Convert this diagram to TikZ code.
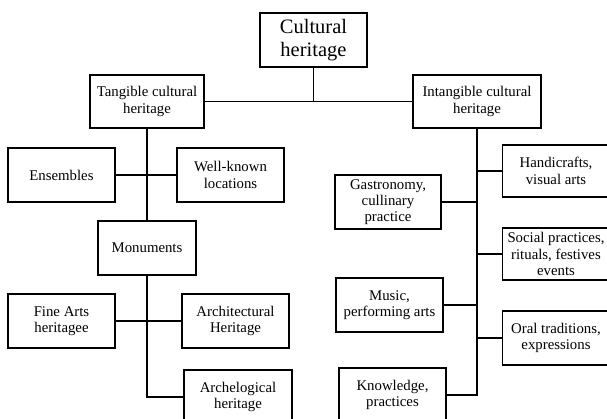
\documentclass[tikz,border=0pt]{standalone}
\usepackage{fontspec}
\setmainfont{Liberation Serif}
\begin{document}
\begin{tikzpicture}[x=1pt,y=-1pt,
  box/.style={draw, line width=1.3pt, align=center, inner sep=1pt,
    minimum width=107pt, minimum height=54pt,
    font=\fontsize{14.8}{16.3}\selectfont},
  conn/.style={line width=1.3pt}]
\useasboundingbox (0,0) rectangle (607,419);
\clip (0,0) rectangle (607,419);
\fill[white] (0,0) rectangle (607,419);
% nodes
\node[box, font=\fontsize{20.5}{23}\selectfont] (cult) at (313.5,40) {Cultural\\heritage};
\node[box, minimum width=114pt, minimum height=53pt] (tang) at (147,101.5) {Tangible cultural\\heritage};
\node[box, minimum width=128pt, minimum height=53pt] (intang) at (477,101.5) {Intangible cultural\\heritage};
\node[box] (ens) at (61.5,175) {Ensembles};
\node[box] (well) at (230.5,175) {Well-known\\locations};
\node[box, minimum width=98pt] (monu) at (147,248) {Monuments};
\node[box] (fine) at (61.5,321) {Fine Arts\\heritagee};
\node[box] (arch) at (235.5,321) {Architectural\\Heritage};
\node[box, minimum width=108pt] (archeo) at (238,397) {Archelogical\\heritage};
\node[box, minimum height=52pt] (handi) at (556,171) {Handicrafts,\\visual arts};
\node[box, minimum width=106pt] (gastro) at (388,202) {Gastronomy,\\cullinary\\practice};
\node[box, minimum height=52pt] (social) at (556,254) {Social practices,\\rituals, festives\\events};
\node[box] (music) at (389.5,305) {Music,\\performing arts};
\node[box] (oral) at (556,338) {Oral traditions,\\expressions};
\node[box] (know) at (392.5,395) {Knowledge,\\practices};
% connectors
\draw[conn] (tang.east) -- (intang.west);
\draw[conn] (cult.south) -- (cult.south |- tang.east);
\draw[conn] (tang.south) -- (monu.north);
\draw[conn] (ens.east) -- (well.west);
\draw[conn] (fine.east) -- (arch.west);
\draw[conn] (monu.south) |- (archeo.west);
\draw[conn] (intang.south) |- (know.east);
\draw[conn] (handi.west) -- (intang.south |- handi.west);
\draw[conn] (gastro.east) -- (intang.south |- gastro.east);
\draw[conn] (social.west) -- (intang.south |- social.west);
\draw[conn] (music.east) -- (intang.south |- music.east);
\draw[conn] (oral.west) -- (intang.south |- oral.west);
\end{tikzpicture}
\end{document}
